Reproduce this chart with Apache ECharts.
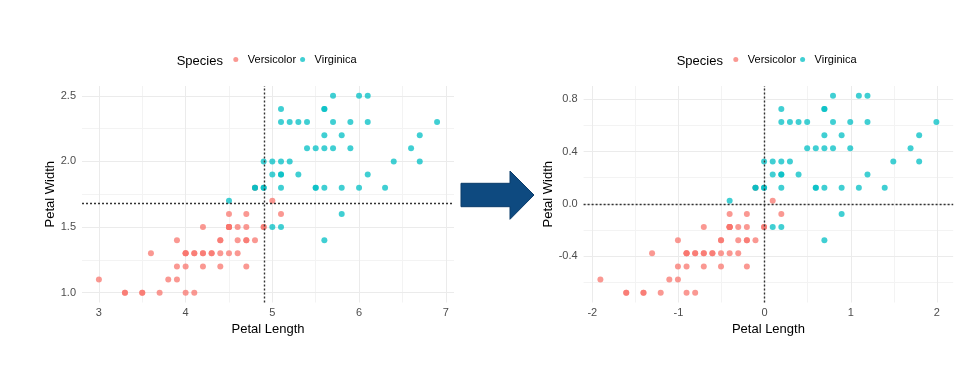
<!DOCTYPE html>
<html>
<head>
<meta charset="utf-8">
<script src="https://cdn.jsdelivr.net/npm/echarts@6/dist/echarts.min.js"></script>
<style>
html,body{margin:0;padding:0;background:#fff;}
#chart{width:980px;height:378px;}
</style>
</head>
<body>
<div id="chart"></div>
<script>
// ---- Raw data (left panel): Petal Length / Petal Width ----
const versicolorLength = [4.7,4.5,4.9,4.0,4.6,4.5,4.7,3.3,4.6,3.9,3.5,4.2,4.0,4.7,3.6,4.4,4.5,4.1,4.5,3.9,4.8,4.0,4.9,4.7,4.3,4.4,4.8,5.0,4.5,3.5,3.8,3.7,3.9,5.1,4.5,4.5,4.7,4.4,4.1,4.0,4.4,4.6,4.0,3.3,4.2,4.2,4.2,4.3,3.0,4.1];
const versicolorWidth  = [1.4,1.5,1.5,1.3,1.5,1.3,1.6,1.0,1.3,1.4,1.0,1.5,1.0,1.4,1.3,1.4,1.5,1.0,1.5,1.1,1.8,1.3,1.5,1.2,1.3,1.4,1.4,1.7,1.5,1.0,1.1,1.0,1.2,1.6,1.5,1.6,1.5,1.3,1.3,1.3,1.2,1.4,1.2,1.0,1.3,1.2,1.3,1.3,1.1,1.3];
const virginicaLength  = [6.0,5.1,5.9,5.6,5.8,6.6,4.5,6.3,5.8,6.1,5.1,5.3,5.5,5.0,5.1,5.3,5.5,6.7,6.9,5.0,5.7,4.9,6.7,4.9,5.7,6.0,4.8,4.9,5.6,5.8,6.1,6.4,5.6,5.1,5.6,6.1,5.6,5.5,4.8,5.4,5.6,5.1,5.1,5.9,5.7,5.2,5.0,5.2,5.4,5.1];
const virginicaWidth   = [2.5,1.9,2.1,1.8,2.2,2.1,1.7,1.8,1.8,2.5,2.0,1.9,2.1,2.0,2.4,2.3,1.8,2.2,2.3,1.5,2.3,2.0,2.0,1.8,2.1,1.8,1.8,1.8,2.1,1.6,1.9,2.0,2.2,1.5,1.4,2.3,2.4,1.8,1.8,2.1,2.4,2.3,1.9,2.3,2.5,2.3,1.9,2.0,2.3,1.8];

// ---- Centered data (right panel) ----
const versicolorLengthC = [-0.206,-0.406,-0.006,-0.906,-0.306,-0.406,-0.206,-1.606,-0.306,-1.006,-1.406,-0.706,-0.906,-0.206,-1.306,-0.506,-0.406,-0.806,-0.406,-1.006,-0.106,-0.906,-0.006,-0.206,-0.606,-0.506,-0.106,0.094,-0.406,-1.406,-1.106,-1.206,-1.006,0.194,-0.406,-0.406,-0.206,-0.506,-0.806,-0.906,-0.506,-0.306,-0.906,-1.606,-0.706,-0.706,-0.706,-0.606,-1.906,-0.806];
const versicolorWidthC  = [-0.276,-0.176,-0.176,-0.376,-0.176,-0.376,-0.076,-0.676,-0.376,-0.276,-0.676,-0.176,-0.676,-0.276,-0.376,-0.276,-0.176,-0.676,-0.176,-0.576,0.124,-0.376,-0.176,-0.476,-0.376,-0.276,-0.276,0.024,-0.176,-0.676,-0.576,-0.676,-0.476,-0.076,-0.176,-0.076,-0.176,-0.376,-0.376,-0.376,-0.476,-0.276,-0.476,-0.676,-0.376,-0.476,-0.376,-0.376,-0.576,-0.376];
const virginicaLengthC  = [1.094,0.194,0.994,0.694,0.894,1.694,-0.406,1.394,0.894,1.194,0.194,0.394,0.594,0.094,0.194,0.394,0.594,1.794,1.994,0.094,0.794,-0.006,1.794,-0.006,0.794,1.094,-0.106,-0.006,0.694,0.894,1.194,1.494,0.694,0.194,0.694,1.194,0.694,0.594,-0.106,0.494,0.694,0.194,0.194,0.994,0.794,0.294,0.094,0.294,0.494,0.194];
const virginicaWidthC   = [0.824,0.224,0.424,0.124,0.524,0.424,0.024,0.124,0.124,0.824,0.324,0.224,0.424,0.324,0.724,0.624,0.124,0.524,0.624,-0.176,0.624,0.324,0.324,0.124,0.424,0.124,0.124,0.124,0.424,-0.076,0.224,0.324,0.524,-0.176,-0.276,0.624,0.724,0.124,0.124,0.424,0.724,0.624,0.224,0.624,0.824,0.624,0.224,0.324,0.624,0.124];

// ---- Reference lines (means) ----
const meanLength = 4.906, meanWidth = 1.676;
const meanLengthC = 0, meanWidthC = 0;

// ---- Ticks ----
const xTicksL = [3,4,5,6,7], xMinorL = [3.5,4.5,5.5,6.5];
const yTicksL = [1.0,1.5,2.0,2.5], yMinorL = [1.25,1.75,2.25];
const xTicksR = [-2,-1,0,1,2], xMinorR = [-1.5,-0.5,0.5,1.5];
const yTicksR = [-0.4,0.0,0.4,0.8], yMinorR = [-0.6,-0.2,0.2,0.6];

const speciesNames = ['Versicolor','Virginica'];
const colors = ['#F8766D','#00BFC4'];
const FONT = 'Liberation Sans, Arial, sans-serif';

function zip(a,b){ return a.map((v,i)=>[v,b[i]]); }

function gridSeries(idx, xMaj, xMin, yMaj, yMin){
  const d = [];
  xMin.forEach(v=>d.push({xAxis:v, lineStyle:{color:'#F3F3F3', width:1, type:'solid'}}));
  yMin.forEach(v=>d.push({yAxis:v, lineStyle:{color:'#F3F3F3', width:1, type:'solid'}}));
  xMaj.forEach(v=>d.push({xAxis:v, lineStyle:{color:'#EBEBEB', width:1, type:'solid'}}));
  yMaj.forEach(v=>d.push({yAxis:v, lineStyle:{color:'#EBEBEB', width:1, type:'solid'}}));
  return {type:'scatter', name:'grid'+idx, xAxisIndex:idx, yAxisIndex:idx, data:[], silent:true, z:0,
    markLine:{silent:true, z:0, zlevel:0, symbol:['none','none'], label:{show:false}, animation:false, data:d}};
}
function refSeries(idx, mx, my){
  return {type:'scatter', name:'ref'+idx, xAxisIndex:idx, yAxisIndex:idx, data:[], silent:true, z:6,
    markLine:{silent:true, symbol:['none','none'], label:{show:false}, animation:false, z:6,
      lineStyle:{color:'#333333', width:1.4, type:[2,2]},
      data:[{xAxis:mx},{yAxis:my}]}};
}
function pts(idx, name, color, x, y){
  return {type:'scatter', name:name, xAxisIndex:idx, yAxisIndex:idx, symbolSize:6,
    itemStyle:{color:color, opacity:0.75}, data:zip(x,y), z:3};
}
function xAxisCfg(idx, min, max, ticks){
  return {type:'value', gridIndex:idx, min:min, max:max, name:'Petal Length', nameLocation:'middle', nameGap:19,
    nameTextStyle:{fontSize:13, color:'#000', fontFamily:FONT},
    axisLine:{show:false}, axisTick:{show:false}, splitLine:{show:false},
    axisLabel:{customValues:ticks, fontSize:11, color:'#4D4D4D', fontFamily:FONT, margin:5,
      formatter:(v)=>String(Math.round(v))}};
}
function yAxisCfg(idx, min, max, ticks, gap){
  return {type:'value', gridIndex:idx, min:min, max:max, name:'Petal Width', nameLocation:'middle', nameGap:gap,
    nameTextStyle:{fontSize:13, color:'#000', fontFamily:FONT},
    axisLine:{show:false}, axisTick:{show:false}, splitLine:{show:false},
    axisLabel:{customValues:ticks, fontSize:11, color:'#4D4D4D', fontFamily:FONT, margin:6,
      formatter:(v)=>(Math.abs(v)<1e-9?0:v).toFixed(1)}};
}
function legendCfg(left){
  return {data:speciesNames, left:left, top:49, orient:'horizontal', icon:'circle',
    itemWidth:14, itemHeight:5, itemGap:4, selectedMode:false,
    textStyle:{fontSize:11, color:'#000', fontFamily:FONT}};
}

const chart = echarts.init(document.getElementById('chart'), null, {renderer:'canvas'});
chart.setOption({
  animation:false,
  backgroundColor:'#fff',
  grid:[
    {left:82, right:526, top:86, bottom:75.5},
    {left:583.6, right:26.8, top:86, bottom:75.5}
  ],
  xAxis:[ xAxisCfg(0, 2.805, 7.095, xTicksL), xAxisCfg(1, -2.101, 2.189, xTicksR) ],
  yAxis:[ yAxisCfg(0, 0.925, 2.575, yTicksL, 25), yAxisCfg(1, -0.751, 0.899, yTicksR, 29) ],
  legend:[ legendCfg(228.3), legendCfg(728.3) ],
  graphic:[
    {type:'text', left:176.7, top:55, style:{text:'Species', fontSize:13, fill:'#000', fontFamily:FONT}},
    {type:'text', left:676.7, top:55, style:{text:'Species', fontSize:13, fill:'#000', fontFamily:FONT}},
    {type:'polygon', shape:{points:[[461,183.3],[510,183.3],[510,171],[534,195],[510,219.3],[510,206.7],[461,206.7]]},
      style:{fill:'#0E4A80', stroke:'#0B3C6A', lineWidth:1}}
  ],
  series:[
    gridSeries(0, xTicksL, xMinorL, yTicksL, yMinorL),
    gridSeries(1, xTicksR, xMinorR, yTicksR, yMinorR),
    pts(0, 'Versicolor', colors[0], versicolorLength, versicolorWidth),
    pts(0, 'Virginica', colors[1], virginicaLength, virginicaWidth),
    pts(1, 'Versicolor', colors[0], versicolorLengthC, versicolorWidthC),
    pts(1, 'Virginica', colors[1], virginicaLengthC, virginicaWidthC),
    refSeries(0, meanLength, meanWidth),
    refSeries(1, meanLengthC, meanWidthC)
  ]
});
</script>
</body>
</html>
